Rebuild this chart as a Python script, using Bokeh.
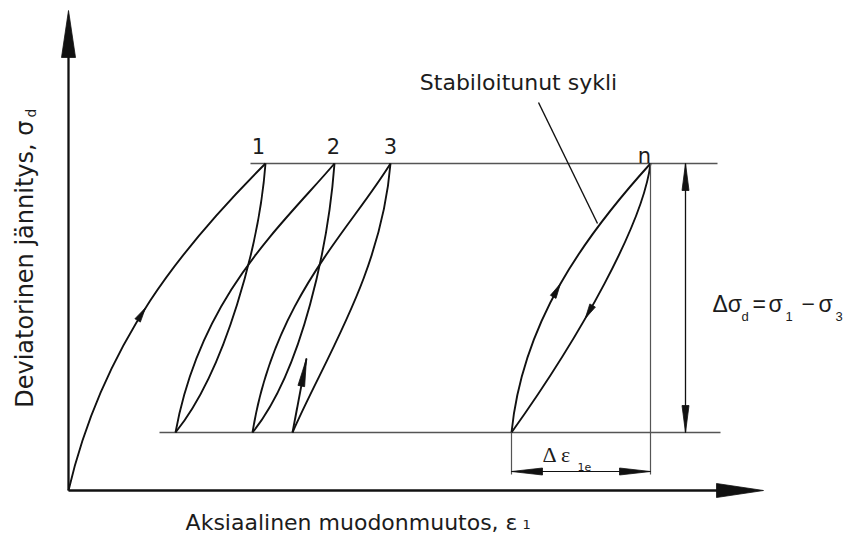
import numpy as np
from bokeh.plotting import figure
from bokeh.models import Range1d
from bokeh.core.properties import value
from bokeh.embed import file_html
from bokeh.resources import INLINE

# ---------------- data (schematic units: strain on x, deviator stress on y) ----------------
sigma_max = 327          # upper stress level (sigma_1)
sigma_min = 58           # lower stress level (sigma_3)
peak_labels = ["1", "2", "3", "n"]
peak_strain = [197, 266, 322, 582]     # strain at each load peak
valley_strain = [107, 184, 224, 443]   # strain after each unloading

# cubic Bezier control points of each branch
branch_names = ["load0", "unload1", "reload1", "unload2", "reload2", "unload3", "load_n", "unload_n"]
ctrl1_x = [35, 191, 132, 260, 205, 313, 454, 575]
ctrl1_y = [150, 247, 195, 247, 190, 217, 168, 268]
ctrl2_x = [117, 157, 214, 234, 280, 256, 515, 513]
ctrl2_y = [247, 120, 266, 120, 259, 132, 253, 156]

stub_end = (238, 132)                 # start of the 4th reloading
upper_line_x = [182, 649]
lower_line_x = [91, 652]
axis_x_end = 695
axis_y_end = 480
dim_sigma_x = 617
dim_eps_y = 19
ext_bottom = 16
leader_x = [470, 529]
leader_y = [388, 267]

# ---------------- build branch endpoints from peaks / valleys ----------------
sx = [0, peak_strain[0], valley_strain[0], peak_strain[1], valley_strain[1], peak_strain[2], valley_strain[3], peak_strain[3]]
sy = [0, sigma_max, sigma_min, sigma_max, sigma_min, sigma_max, sigma_min, sigma_max]
ex = [peak_strain[0], valley_strain[0], peak_strain[1], valley_strain[1], peak_strain[2], valley_strain[2], peak_strain[3], valley_strain[3]]
ey = [sigma_max, sigma_min, sigma_max, sigma_min, sigma_max, sigma_min, sigma_max, sigma_min]

p = figure(width=846, height=534, x_range=Range1d(-68, 778), y_range=Range1d(-44, 490),
           output_backend="svg", toolbar_location=None, x_axis_type=None, y_axis_type=None,
           min_border=0)
p.outline_line_color = None
p.background_fill_color = "white"
p.border_fill_color = "white"

INK = "#111111"
REF = "#555555"
TXT = "#1c1c1c"


def head(tx, ty, dx, dy, length, half):
    n = np.hypot(dx, dy)
    ux, uy = dx / n, dy / n
    bx, by = tx - ux * length, ty - uy * length
    px, py = -uy * half, ux * half
    return [tx, bx + px, bx - px], [ty, by + py, by - py]


def bez(i, t):
    P = np.array([[sx[i], sy[i]], [ctrl1_x[i], ctrl1_y[i]], [ctrl2_x[i], ctrl2_y[i]], [ex[i], ey[i]]], float)
    pt = (1 - t) ** 3 * P[0] + 3 * (1 - t) ** 2 * t * P[1] + 3 * (1 - t) * t ** 2 * P[2] + t ** 3 * P[3]
    d = 3 * (1 - t) ** 2 * (P[1] - P[0]) + 6 * (1 - t) * t * (P[2] - P[1]) + 3 * t ** 2 * (P[3] - P[2])
    return pt, d

# reference stress levels
p.line(upper_line_x, [sigma_max, sigma_max], line_color=REF, line_width=1.4)
p.line(lower_line_x, [sigma_min, sigma_min], line_color=REF, line_width=1.4)

# axes with arrows
hx, hy = [], []
p.line([0, 0], [0, axis_y_end - 40], line_color=INK, line_width=2.3)
p.line([0, axis_x_end - 40], [0, 0], line_color=INK, line_width=2.3)
a = head(0, axis_y_end, 0, 1, 47, 7); hx.append(a[0]); hy.append(a[1])
a = head(axis_x_end, 0, 1, 0, 47, 7); hx.append(a[0]); hy.append(a[1])

# hysteresis branches
p.bezier(x0=sx, y0=sy, x1=ex, y1=ey, cx0=ctrl1_x, cy0=ctrl1_y, cx1=ctrl2_x, cy1=ctrl2_y,
         line_color=INK, line_width=1.9)
p.line([valley_strain[2], stub_end[0]], [sigma_min, stub_end[1]], line_color=INK, line_width=1.9)
a = head(stub_end[0], stub_end[1], stub_end[0] - valley_strain[2], stub_end[1] - sigma_min, 28, 3.4)
hx.append(a[0]); hy.append(a[1])

# direction arrows on the curves
for i, t in [(0, 0.46), (6, 0.48), (7, 0.6)]:
    pt, d = bez(i, t)
    n = d / np.hypot(*d)
    tip = pt + n * 7
    a = head(tip[0], tip[1], d[0], d[1], 15, 3.2)
    hx.append(a[0]); hy.append(a[1])

# leader line
p.line(leader_x, leader_y, line_color=INK, line_width=1.4)

# dimension: delta sigma_d
p.line([dim_sigma_x, dim_sigma_x], [sigma_min, sigma_max], line_color=INK, line_width=1.3)
a = head(dim_sigma_x, sigma_max, 0, 1, 27, 3.5); hx.append(a[0]); hy.append(a[1])
a = head(dim_sigma_x, sigma_min, 0, -1, 27, 3.5); hx.append(a[0]); hy.append(a[1])

# dimension: delta eps_1e
p.line([peak_strain[3], peak_strain[3]], [sigma_max, ext_bottom], line_color=REF, line_width=1.2)
p.line([valley_strain[3], valley_strain[3]], [sigma_min, ext_bottom], line_color=REF, line_width=1.2)
p.line([valley_strain[3], peak_strain[3]], [dim_eps_y, dim_eps_y], line_color=INK, line_width=1.2)
a = head(valley_strain[3], dim_eps_y, -1, 0, 31, 3.5); hx.append(a[0]); hy.append(a[1])
a = head(peak_strain[3], dim_eps_y, 1, 0, 31, 3.5); hx.append(a[0]); hy.append(a[1])

p.patches(hx, hy, fill_color=INK, line_color=INK, line_width=0.8)

# ---------------- texts (anchored at their vertical middle) ----------------
SANS = value("DejaVu Sans")
peak_label_dx = [-7, -1, 0, -6]
peak_label_y = [345, 345, 345, 335]
p.text(x=[px + dx for px, dx in zip(peak_strain, peak_label_dx)], y=peak_label_y, text=peak_labels,
       text_font=SANS, text_font_size="21px", text_align="center", text_baseline="middle",
       text_color=TXT)

p.text(x=[450], y=[408], text=["Stabiloitunut sykli"], text_font=SANS, text_font_size="22px",
       text_align="center", text_baseline="middle", text_color=TXT)

# x label
p.text(x=[449], y=[-32], text=["Aksiaalinen muodonmuutos, ε"], text_font=SANS, text_font_size="22px",
       text_align="right", text_baseline="middle", text_color=TXT)
p.text(x=[454], y=[-34], text=["1"], text_font=SANS, text_font_size="13px",
       text_align="left", text_baseline="middle", text_color=TXT)

# y label (rotated)
p.text(x=[-44], y=[370], text=["Deviatorinen jännitys, σ"], angle=np.pi / 2, text_font=SANS,
       text_font_size="24px", text_align="right", text_baseline="middle", text_color=TXT)
p.text(x=[-38], y=[373], text=["d"], angle=np.pi / 2, text_font=SANS,
       text_font_size="14px", text_align="left", text_baseline="middle", text_color=TXT)

# delta sigma formula
MATH = value("Liberation Sans")
main_x = [644, 684, 700, 733, 750]
main_t = ["Δσ", "=", "σ", "−", "σ"]
p.text(x=main_x, y=[187] * 5, text=main_t, text_font=MATH, text_font_size="23px",
       text_align="left", text_baseline="middle", text_color=TXT)
p.text(x=[673, 717, 767], y=[174] * 3, text=["d", "1", "3"], text_font=MATH, text_font_size="13px",
       text_align="left", text_baseline="middle", text_color=TXT)

# delta eps_1e
SERIF = value("Liberation Serif")
p.text(x=[474], y=[36], text=["Δ ε"], text_font=SERIF, text_font_size="22px",
       text_align="left", text_baseline="middle", text_color=TXT)
p.text(x=[509], y=[24], text=["1e"], text_font=SANS, text_font_size="11px",
       text_align="left", text_baseline="middle", text_color=TXT)

open("out.html", "w").write(file_html(p, INLINE))
